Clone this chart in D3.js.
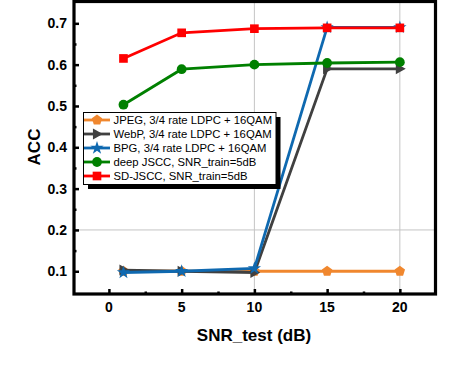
<!DOCTYPE html>
<html>
<head>
<meta charset="utf-8">
<script src="https://cdn.jsdelivr.net/npm/d3@7"></script>
<style>
  body { margin: 0; background: #fff; }
  text { font-family: "Liberation Sans", Arial, sans-serif; }
  .tick-label { font-size: 14px; font-weight: bold; }
  .axis-title { font-size: 17px; font-weight: bold; }
  .legend-text { font-size: 11.3px; }
</style>
</head>
<body>
<div id="chart"></div>
<script>
const snr = [1, 5, 10, 15, 20]
const jpeg = [0.1, 0.1, 0.1, 0.1, 0.1]
const webp = [0.103, 0.1, 0.097, 0.59, 0.59]
const bpg = [0.097, 0.1, 0.107, 0.69, 0.69]
const deepJscc = [0.503, 0.589, 0.6, 0.604, 0.606]
const sdJscc = [0.615, 0.677, 0.687, 0.689, 0.689]

const seriesNames = [
  "JPEG, 3/4 rate LDPC + 16QAM",
  "WebP, 3/4 rate LDPC + 16QAM",
  "BPG, 3/4 rate LDPC + 16QAM",
  "deep JSCC, SNR_train=5dB",
  "SD-JSCC, SNR_train=5dB"
]
const xTicks = [0, 5, 10, 15, 20]
const yTicks = [0.1, 0.2, 0.3, 0.4, 0.5, 0.6, 0.7]

const w = 462, h = 374

// pentagon marker for JPEG
const symbolPentagon = {
  draw(ctx, size) {
    const r = Math.sqrt(size / 2.3776)
    for (let i = 0; i < 5; i++) {
      const a = -Math.PI / 2 + i * 2 * Math.PI / 5
      if (i === 0) ctx.moveTo(r * Math.cos(a), r * Math.sin(a))
      else ctx.lineTo(r * Math.cos(a), r * Math.sin(a))
    }
    ctx.closePath()
  }
}
// right pointing triangle for WebP
const symbolTriRight = {
  draw(ctx, size) {
    const s = Math.sqrt(size / 1.3)
    ctx.moveTo(s * 0.8, 0)
    ctx.lineTo(-s * 0.55, -s * 0.75)
    ctx.lineTo(-s * 0.55, s * 0.75)
    ctx.closePath()
  }
}

const series = [
  {name: seriesNames[0], values: jpeg, color: "#f0872e", symbol: symbolPentagon, size: 70},
  {name: seriesNames[1], values: webp, color: "#404040", symbol: symbolTriRight, size: 70},
  {name: seriesNames[2], values: bpg, color: "#0f69b0", symbol: d3.symbolStar, size: 55},
  {name: seriesNames[3], values: deepJscc, color: "#008000", symbol: d3.symbolCircle, size: 75},
  {name: seriesNames[4], values: sdJscc, color: "#ff0000", symbol: d3.symbolSquare, size: 75}
]

const svg = d3.select("#chart").append("svg")
  .attr("width", w)
  .attr("height", h)

const x = d3.scaleLinear().domain([-2.4, 22.45]).range([74, 435.5])
const y = d3.scaleLinear().domain([0.045, 0.7528]).range([294, 1.5])

// grid lines (only some are drawn in the original)
svg.append("g").selectAll("line")
  .data([10, 20])
  .join("line")
  .attr("x1", d => x(d)).attr("x2", d => x(d))
  .attr("y1", y.range()[1]).attr("y2", y.range()[0])
  .attr("stroke", "#c4c4c4").attr("stroke-width", 1)
svg.append("g").selectAll("line")
  .data([0.2])
  .join("line")
  .attr("x1", x.range()[0]).attr("x2", x.range()[1])
  .attr("y1", d => y(d)).attr("y2", d => y(d))
  .attr("stroke", "#c4c4c4").attr("stroke-width", 1)

// axes with inward ticks
const xAxis = d3.axisBottom(x).tickValues(xTicks).tickSize(-5).tickFormat("")
const xMinor = d3.axisBottom(x).tickValues([2.5, 7.5, 12.5, 17.5]).tickSize(-2.5).tickFormat("")
const yAxis = d3.axisLeft(y).tickValues(yTicks).tickSize(-5).tickFormat("")
const yMinor = d3.axisLeft(y).tickValues([0.15, 0.25, 0.35, 0.45, 0.55, 0.65]).tickSize(-2.5).tickFormat("")

function styleAxis(g) {
  g.select(".domain").remove()
  g.selectAll(".tick line").attr("stroke", "#000").attr("stroke-width", 2.5)
}
svg.append("g").attr("transform", `translate(0,${y.range()[0]})`).call(xAxis).call(styleAxis)
svg.append("g").attr("transform", `translate(0,${y.range()[0]})`).call(xMinor).call(styleAxis)
svg.append("g").attr("transform", `translate(${x.range()[0]},0)`).call(yAxis).call(styleAxis)
svg.append("g").attr("transform", `translate(${x.range()[0]},0)`).call(yMinor).call(styleAxis)

// tick labels
svg.append("g").selectAll("text")
  .data(xTicks)
  .join("text")
  .attr("class", "tick-label")
  .attr("x", d => x(d))
  .attr("y", 312)
  .attr("text-anchor", "middle")
  .text(d => d)
svg.append("g").selectAll("text")
  .data(yTicks)
  .join("text")
  .attr("class", "tick-label")
  .attr("x", 67)
  .attr("y", d => y(d))
  .attr("dy", "0.36em")
  .attr("text-anchor", "end")
  .text(d => d.toFixed(1))

// frame
svg.append("rect")
  .attr("x", x.range()[0])
  .attr("y", y.range()[1])
  .attr("width", x.range()[1] - x.range()[0])
  .attr("height", y.range()[0] - y.range()[1])
  .attr("fill", "none")
  .attr("stroke", "#000")
  .attr("stroke-width", 3.2)

// series
const line = d3.line().x((d, i) => x(snr[i])).y(d => y(d))
series.forEach(s => {
  const g = svg.append("g")
  g.append("path")
    .attr("d", line(s.values))
    .attr("fill", "none")
    .attr("stroke", s.color)
    .attr("stroke-width", 2.8)
  g.selectAll("path.m")
    .data(s.values)
    .join("path")
    .attr("class", "m")
    .attr("transform", (d, i) => `translate(${x(snr[i])},${y(d)})`)
    .attr("d", d3.symbol().type(s.symbol).size(s.size))
    .attr("fill", s.color)
})

// axis titles
svg.append("text")
  .attr("class", "axis-title")
  .attr("transform", "translate(40,147) rotate(-90)")
  .attr("text-anchor", "middle")
  .text("ACC")
svg.append("text")
  .attr("class", "axis-title")
  .attr("x", 254)
  .attr("y", 341)
  .attr("text-anchor", "middle")
  .text("SNR_test (dB)")

// legend
const lx = 83.5, ly = 112.5, lw = 192.5, lh = 72
svg.append("rect")
  .attr("x", lx + 4.5).attr("y", ly + 4.5)
  .attr("width", lw).attr("height", lh)
  .attr("fill", "#000")
svg.append("rect")
  .attr("x", lx).attr("y", ly)
  .attr("width", lw).attr("height", lh)
  .attr("fill", "#fff")
  .attr("stroke", "#000")
  .attr("stroke-width", 1)

const rows = svg.append("g").selectAll("g")
  .data(series)
  .join("g")
  .attr("transform", (d, i) => `translate(0,${120 + i * 14})`)
rows.append("line")
  .attr("x1", lx + 0.5).attr("x2", 110)
  .attr("stroke", d => d.color)
  .attr("stroke-width", 2.8)
rows.append("path")
  .attr("transform", "translate(97,0)")
  .attr("d", d => d3.symbol().type(d.symbol).size(d.size)())
  .attr("fill", d => d.color)
rows.append("text")
  .attr("class", "legend-text")
  .attr("x", 113.5)
  .attr("dy", "0.36em")
  .text(d => d.name)
</script>
</body>
</html>
